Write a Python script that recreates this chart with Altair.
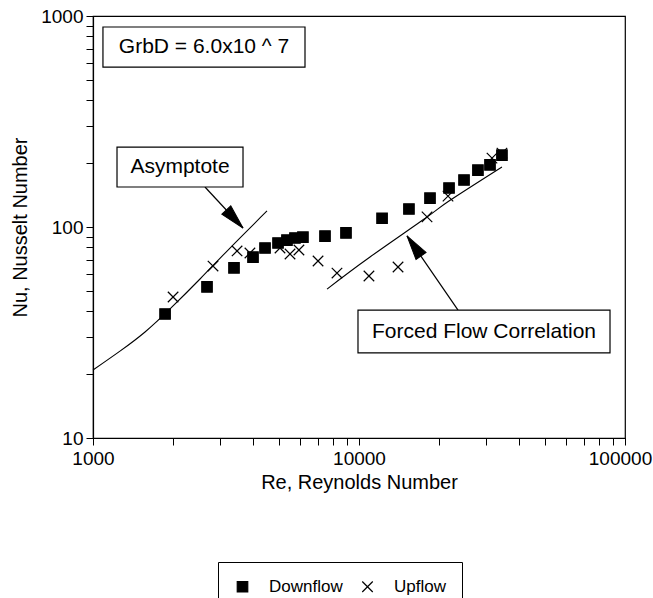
import altair as alt
import pandas as pd

FONT = "Liberation Sans"

# ---- data ----
down_re = [1866, 2683, 3389, 3995, 4433, 4961, 5360, 5745, 6155, 7450, 8935,
           12210, 15410, 18490, 21800, 24820, 28000, 31080, 34470]
down_nu = [38.7, 52, 64, 72, 79.5, 84, 86.7, 88.7, 89.5, 90.6, 93.7,
           110, 121.7, 137, 153, 167, 186, 197, 219]

up_re = [2000, 2826, 3480, 3890, 5047, 5504, 5946, 7015, 8265, 10900, 14020,
         18020, 21610, 31620, 34470]
up_nu = [46.6, 65.3, 77, 75.3, 79.5, 74.5, 77.8, 69, 60.5, 58.6, 64.6,
         111.6, 140, 212, 224]

asym_re = [1000, 1263, 1569, 1948, 2525, 3273, 4510]
asym_nu = [21.0, 25.8, 31.8, 40.9, 56.7, 79.5, 119.1]
forced_re = [7583, 11000, 18020, 21790, 34470]
forced_nu = [50.8, 72.1, 111.5, 132.8, 192.5]

box_labels = ["GrbD = 6.0x10 ^ 7", "Asymptote", "Forced Flow Correlation"]
box_re_left = [1090, 1231, 9913]
box_re_right = [6266, 3664, 87830]
box_nu_top = [887, 239.3, 40.4]
box_nu_bottom = [573, 154.7, 25.3]
label_re = [2614, 2124, 29510]
label_nu = [713, 192.5, 31.96]

arrow_re_start = [2636, 23570]
arrow_nu_start = [154.7, 40.4]
arrow_re_tip = [3664, 15150]
arrow_nu_tip = [98.9, 90.7]
arrow_angle = [137, 325]

series_names = ["Downflow", "Upflow"]
x_ticks = [1000, 2000, 3000, 4000, 5000, 6000, 7000, 8000, 9000,
           10000, 20000, 30000, 40000, 50000, 60000, 70000, 80000, 90000, 100000]
y_ticks = [10, 20, 30, 40, 50, 60, 70, 80, 90,
           100, 200, 300, 400, 500, 600, 700, 800, 900, 1000]

# ---- tables ----
pts = pd.DataFrame({
    "Re": down_re + up_re,
    "Nu": down_nu + up_nu,
    "series": [series_names[0]] * len(down_re) + [series_names[1]] * len(up_re),
})
lines = pd.DataFrame({
    "Re": asym_re + forced_re,
    "Nu": asym_nu + forced_nu,
    "line": ["asym"] * len(asym_re) + ["forced"] * len(forced_re),
})
boxes = pd.DataFrame({
    "label": box_labels, "xl": box_re_left, "xr": box_re_right,
    "yt": box_nu_top, "yb": box_nu_bottom, "tx": label_re, "ty": label_nu,
})
arrows = pd.DataFrame({
    "xs": arrow_re_start, "ys": arrow_nu_start,
    "xt": arrow_re_tip, "yt": arrow_nu_tip, "ang": arrow_angle,
})

xscale = alt.Scale(type="log", domain=[1000, 100000], nice=False)
yscale = alt.Scale(type="log", domain=[10, 1000], nice=False)

xaxis = alt.Axis(
    title="Re, Reynolds Number", values=x_ticks, format="d",
    labelExpr="(datum.value == 1000 || datum.value == 10000 || datum.value == 100000) ? datum.label : ''",
    labelOffset={"condition": {"test": "datum.value == 100000", "value": -5}, "value": 0},
    tickSize=7, labelPadding=4, titlePadding=4, labelOverlap=False, labelFlush=False,
    labelFontSize=19, titleFontSize=20, titleFontWeight="normal",
)
yaxis = alt.Axis(
    title="Nu, Nusselt Number", values=y_ticks, format="d",
    labelExpr="(datum.value == 10 || datum.value == 100 || datum.value == 1000) ? datum.label : ''",
    tickSize=7, labelPadding=3, titlePadding=10, labelOverlap=False, labelFlush=False,
    labelFontSize=19, titleFontSize=20, titleFontWeight="normal",
)


def X(field):
    return alt.X(field, type="quantitative", scale=xscale, axis=xaxis)


def Y(field):
    return alt.Y(field, type="quantitative", scale=yscale, axis=yaxis)


XPATH = "M-1,-1L1,1M-1,1L1,-1"
HEAD = "M0,0L0.5,2L-0.5,2Z"


def make_legend():
    return alt.Legend(
        title=None, orient="none", legendX=125, legendY=546, direction="horizontal",
        strokeColor="black", fillColor="white", padding=16, cornerRadius=0,
        labelFontSize=17, labelFont=FONT, labelColor="black",
        labelExpr="datum.label == 'Upflow' ? datum.label + '\u00a0\u00a0\u00a0\u00a0\u00a0' : datum.label",
        symbolSize=110, symbolStrokeWidth=1.2, symbolOpacity=1,
        labelOffset=18, columnPadding=16,
    )


point_layer = alt.Chart(pts).mark_point(
    filled=False, strokeWidth=1.2, size=110, opacity=1
).encode(
    x=X("Re"), y=Y("Nu"),
    shape=alt.Shape("series:N", scale=alt.Scale(domain=series_names, range=["square", XPATH]),
                    legend=make_legend()),
    fill=alt.Fill("series:N", scale=alt.Scale(domain=series_names, range=["black", "black"]),
                  legend=make_legend()),
    stroke=alt.Stroke("series:N", scale=alt.Scale(domain=series_names, range=["black", "black"]),
                      legend=make_legend()),
)

line_layer = alt.Chart(lines).mark_line(color="black", strokeWidth=1.1, interpolate="natural").encode(
    x=X("Re"), y=Y("Nu"), detail="line:N"
)

shaft_layer = alt.Chart(arrows).mark_rule(color="black", strokeWidth=1.2).encode(
    x=X("xs"), y=Y("ys"), x2="xt", y2="yt"
)

head_layer = alt.Chart(arrows).mark_point(
    shape=HEAD, filled=True, fill="black", stroke="black", strokeWidth=1, size=600, opacity=1
).encode(
    x=X("xt"), y=Y("yt"), angle=alt.Angle("ang:Q", scale=None)
)

rect_layer = alt.Chart(boxes).mark_rect(fill="white", stroke="black", strokeWidth=1.2).encode(
    x=X("xl"), x2="xr", y=Y("yt"), y2="yb"
)

text_layer = alt.Chart(boxes).mark_text(
    font=FONT, fontSize=21, color="black", align="center", baseline="middle"
).encode(
    x=X("tx"), y=Y("ty"), text="label:N"
)

chart = alt.layer(
    line_layer, point_layer, shaft_layer, head_layer, rect_layer, text_layer
).properties(
    width=532, height=422,
    padding={"left": 93, "top": 16, "right": 28, "bottom": 160},
    autosize=alt.AutoSizeParams(type="none"),
    background="white",
).configure_view(
    stroke="black", strokeWidth=1.2
).configure_axis(
    domainColor="black", tickColor="black", labelColor="black", titleColor="black",
    labelFont=FONT, titleFont=FONT, grid=False, domainWidth=1.2, tickWidth=1,
)

chart.save("out.html", embed_options={"renderer": "svg", "actions": False})
